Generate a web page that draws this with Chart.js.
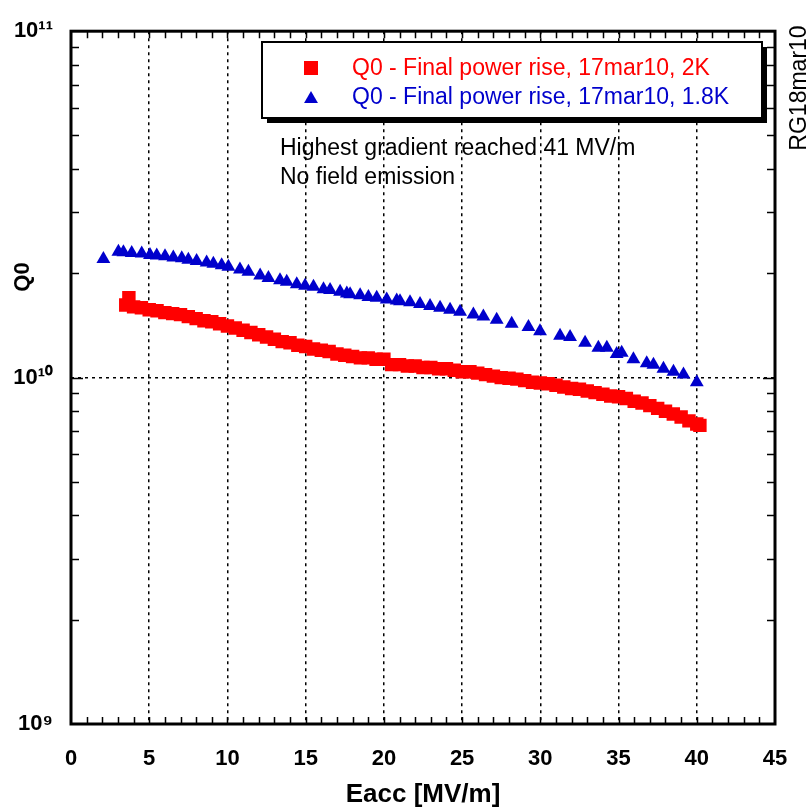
<!DOCTYPE html>
<html>
  <head>
    <title>Q0 vs Eacc - RG18mar10</title>
    <script src="https://cdn.jsdelivr.net/npm/chart.js@4"></script>
    <style>
      html, body { margin: 0; padding: 0; background: #fff; }
      canvas { display: block; }
    </style>
  </head>
  <body>
    <canvas id="graph" width="811" height="810"></canvas>
    <script>
      // 2K run (red squares)
      const redEacc = [
        3.7, 3.5, 4.0, 4.5, 5.0, 5.5, 6.0, 6.5, 7.0, 7.5, 8.0, 8.5, 9.0, 9.5, 10.0,
        10.5, 11.0, 11.5, 12.0, 12.5, 13.0, 13.5, 14.0, 14.5, 15.0, 15.5, 16.0, 16.5,
        17.0, 17.5, 18.0, 18.5, 19.0, 19.5, 20.0, 20.5, 21.0, 21.5, 22.0, 22.5, 23.0,
        23.5, 24.0, 24.5, 25.0, 25.5, 26.0, 26.5, 27.0, 27.5, 28.0, 28.5, 29.0, 29.5,
        30.0, 30.5, 31.0, 31.5, 32.0, 32.5, 33.0, 33.5, 34.0, 34.5, 35.0, 35.5, 36.0,
        36.5, 37.0, 37.5, 38.0, 38.5, 39.0, 39.5, 40.0, 40.2,
      ]
      const redQ0 = [
        1.70e10, 1.62e10, 1.60e10, 1.59e10, 1.57e10, 1.56e10, 1.54e10, 1.53e10, 1.52e10,
        1.50e10, 1.48e10, 1.46e10, 1.45e10, 1.43e10, 1.41e10, 1.39e10, 1.37e10, 1.35e10,
        1.33e10, 1.31e10, 1.29e10, 1.27e10, 1.26e10, 1.24e10, 1.23e10, 1.21e10, 1.20e10,
        1.19e10, 1.17e10, 1.16e10, 1.15e10, 1.14e10, 1.14e10, 1.13e10, 1.13e10, 1.09e10,
        1.09e10, 1.08e10, 1.08e10, 1.07e10, 1.07e10, 1.06e10, 1.06e10, 1.05e10, 1.04e10,
        1.04e10, 1.03e10, 1.02e10, 1.01e10, 1.00e10, 9.96e9, 9.9e9, 9.8e9, 9.7e9, 9.65e9,
        9.6e9, 9.5e9, 9.4e9, 9.3e9, 9.25e9, 9.15e9, 9.05e9, 8.95e9, 8.85e9, 8.8e9, 8.7e9,
        8.55e9, 8.45e9, 8.3e9, 8.15e9, 8.0e9, 7.85e9, 7.7e9, 7.5e9, 7.35e9, 7.28e9,
      ]

      // 1.8K run (blue triangles)
      const blueEacc = [
        2.07, 3.03, 3.35, 3.88, 4.52, 5.05, 5.48, 6.01, 6.54, 7.08, 7.50, 8.03, 8.67,
        9.10, 9.63, 10.06, 10.80, 11.34, 12.09, 12.62, 13.36, 13.79, 14.43, 14.96, 15.50,
        16.14, 16.56, 17.20, 17.63, 17.84, 18.48, 19.01, 19.54, 20.18, 20.82, 21.03,
        21.67, 22.31, 22.95, 23.59, 24.23, 24.87, 25.72, 26.36, 27.21, 28.17, 29.24,
        29.98, 31.26, 31.90, 32.86, 33.71, 34.25, 34.88, 35.20, 35.95, 36.80, 37.23,
        37.87, 38.51, 39.15, 40.0,
      ]
      const blueQ0 = [
        2.20e10, 2.31e10, 2.30e10, 2.29e10, 2.28e10, 2.26e10, 2.25e10, 2.24e10, 2.22e10,
        2.21e10, 2.19e10, 2.17e10, 2.15e10, 2.13e10, 2.11e10, 2.09e10, 2.05e10, 2.02e10,
        1.97e10, 1.94e10, 1.91e10, 1.89e10, 1.86e10, 1.84e10, 1.83e10, 1.80e10, 1.79e10,
        1.77e10, 1.75e10, 1.74e10, 1.73e10, 1.71e10, 1.70e10, 1.68e10, 1.67e10, 1.66e10,
        1.65e10, 1.63e10, 1.61e10, 1.59e10, 1.57e10, 1.55e10, 1.52e10, 1.50e10, 1.47e10,
        1.43e10, 1.40e10, 1.36e10, 1.32e10, 1.31e10, 1.26e10, 1.22e10, 1.22e10, 1.17e10,
        1.18e10, 1.13e10, 1.10e10, 1.09e10, 1.06e10, 1.04e10, 1.02e10, 9.7e9,
      ]

      const seriesLabels = [
        "Q0 - Final power rise, 17mar10, 2K",
        "Q0 - Final power rise, 17mar10, 1.8K",
      ]
      const notes = ["Highest gradient reached 41 MV/m", "No field emission"]
      const runTag = "RG18mar10"

      const yTickValues = [1e9, 1e10, 1e11]
      const yTickLabels = ["10\u2079", "10\u00b9\u2070", "10\u00b9\u00b9"]
      const yMinorTicks = [
        2e9, 3e9, 4e9, 5e9, 6e9, 7e9, 8e9, 9e9,
        2e10, 3e10, 4e10, 5e10, 6e10, 7e10, 8e10, 9e10,
      ]
      const xMinorTicks = Array.from({ length: 44 }, (_, i) => i + 1)

      const red = "#ff0000"
      const blue = "#0000cc"
      const font = "'Liberation Sans', Arial, sans-serif"

      function drawTriangle(ctx, x, y, r) {
        ctx.beginPath()
        ctx.moveTo(x, y - r)
        ctx.lineTo(x + r * 0.866, y + r / 2)
        ctx.lineTo(x - r * 0.866, y + r / 2)
        ctx.closePath()
        ctx.fill()
      }

      // frame, inward ticks, legend box and the text notes
      const decorations = {
        id: "decorations",
        afterDraw(chart) {
          const { ctx, chartArea: a, scales: { x, y } } = chart
          ctx.save()

          ctx.strokeStyle = "#000"
          ctx.lineWidth = 1.5
          ctx.beginPath()
          xMinorTicks.forEach(v => {
            const px = Math.round(x.getPixelForValue(v)) + 0.5
            ctx.moveTo(px, a.bottom); ctx.lineTo(px, a.bottom - 7)
            ctx.moveTo(px, a.top); ctx.lineTo(px, a.top + 7)
          })
          yMinorTicks.forEach(v => {
            const py = Math.round(y.getPixelForValue(v)) + 0.5
            ctx.moveTo(a.left, py); ctx.lineTo(a.left + 8, py)
            ctx.moveTo(a.right, py); ctx.lineTo(a.right - 8, py)
          })
          const py10 = Math.round(y.getPixelForValue(1e10)) + 0.5
          ctx.moveTo(a.left, py10); ctx.lineTo(a.left + 12, py10)
          ctx.moveTo(a.right, py10); ctx.lineTo(a.right - 12, py10)
          ctx.stroke()

          ctx.lineWidth = 3
          ctx.strokeRect(a.left, a.top, a.right - a.left, a.bottom - a.top)

          // legend box with drop shadow
          const box = { x: 262, y: 42, w: 500, h: 76 }
          ctx.fillStyle = "#000"
          ctx.fillRect(box.x + 5, box.y + 5, box.w, box.h)
          ctx.fillStyle = "#fff"
          ctx.fillRect(box.x, box.y, box.w, box.h)
          ctx.lineWidth = 2
          ctx.strokeRect(box.x, box.y, box.w, box.h)

          ctx.fillStyle = red
          ctx.fillRect(304, 61, 14, 14)
          ctx.fillStyle = blue
          drawTriangle(ctx, 311, 99, 8)

          ctx.font = `23px ${font}`
          ctx.textBaseline = "middle"
          ctx.textAlign = "left"
          ctx.fillStyle = red
          ctx.fillText(seriesLabels[0], 352, 69)
          ctx.fillStyle = blue
          ctx.fillText(seriesLabels[1], 352, 98)

          ctx.fillStyle = "#000"
          ctx.fillText(notes[0], 280, 149)
          ctx.fillText(notes[1], 280, 178)

          // rotated texts
          ctx.save()
          ctx.translate(800, 88)
          ctx.rotate(-Math.PI / 2)
          ctx.textAlign = "center"
          ctx.font = `23px ${font}`
          ctx.fillText(runTag, 0, 0)
          ctx.restore()

          ctx.save()
          ctx.translate(23, 277)
          ctx.rotate(-Math.PI / 2)
          ctx.textAlign = "center"
          ctx.font = `bold 22px ${font}`
          ctx.fillText("Q0", 0, 0)
          ctx.restore()

          ctx.restore()
        },
      }

      new Chart(document.getElementById("graph"), {
        type: "scatter",
        data: {
          datasets: [
            {
              label: seriesLabels[0],
              data: redEacc.map((e, i) => ({ x: e, y: redQ0[i] })),
              pointStyle: "rect",
              pointRadius: 9.5,
              backgroundColor: red,
              borderWidth: 0,
            },
            {
              label: seriesLabels[1],
              data: blueEacc.map((e, i) => ({ x: e, y: blueQ0[i] })),
              pointStyle: "triangle",
              pointRadius: 8,
              backgroundColor: blue,
              borderWidth: 0,
            },
          ],
        },
        options: {
          responsive: false,
          animation: false,
          events: [],
          layout: { padding: { top: 21, right: 36, left: 0, bottom: 0 } },
          plugins: {
            legend: { display: false },
            tooltip: { enabled: false },
          },
          scales: {
            x: {
              type: "linear",
              min: 0,
              max: 45,
              afterFit: scale => { scale.height = 86 },
              ticks: {
                stepSize: 5,
                padding: 22,
                color: "#000",
                font: { family: font, size: 22, weight: "bold" },
              },
              grid: {
                drawTicks: false,
                lineWidth: 1.5,
                color: c => (c.tick && c.tick.value > 0 && c.tick.value < 45) ? "#000" : "transparent",
              },
              border: { display: false, dash: [3, 4] },
              title: {
                display: true,
                text: "Eacc [MV/m]",
                color: "#000",
                font: { family: font, size: 26, weight: "bold" },
                padding: { top: 0, bottom: 0 },
              },
            },
            y: {
              type: "logarithmic",
              min: 1e9,
              max: 1e11,
              afterFit: scale => { scale.width = 71 },
              afterBuildTicks: scale => {
                scale.ticks = yTickValues.map(v => ({ value: v }))
              },
              ticks: {
                padding: 18,
                color: "#000",
                font: { family: font, size: 22, weight: "bold" },
                callback: value => yTickLabels[yTickValues.indexOf(value)],
              },
              grid: {
                drawTicks: false,
                lineWidth: 1.5,
                color: c => (c.tick && c.tick.value === 1e10) ? "#000" : "transparent",
              },
              border: { display: false, dash: [3, 4] },
            },
          },
        },
        plugins: [decorations],
      })
    </script>
  </body>
</html>
